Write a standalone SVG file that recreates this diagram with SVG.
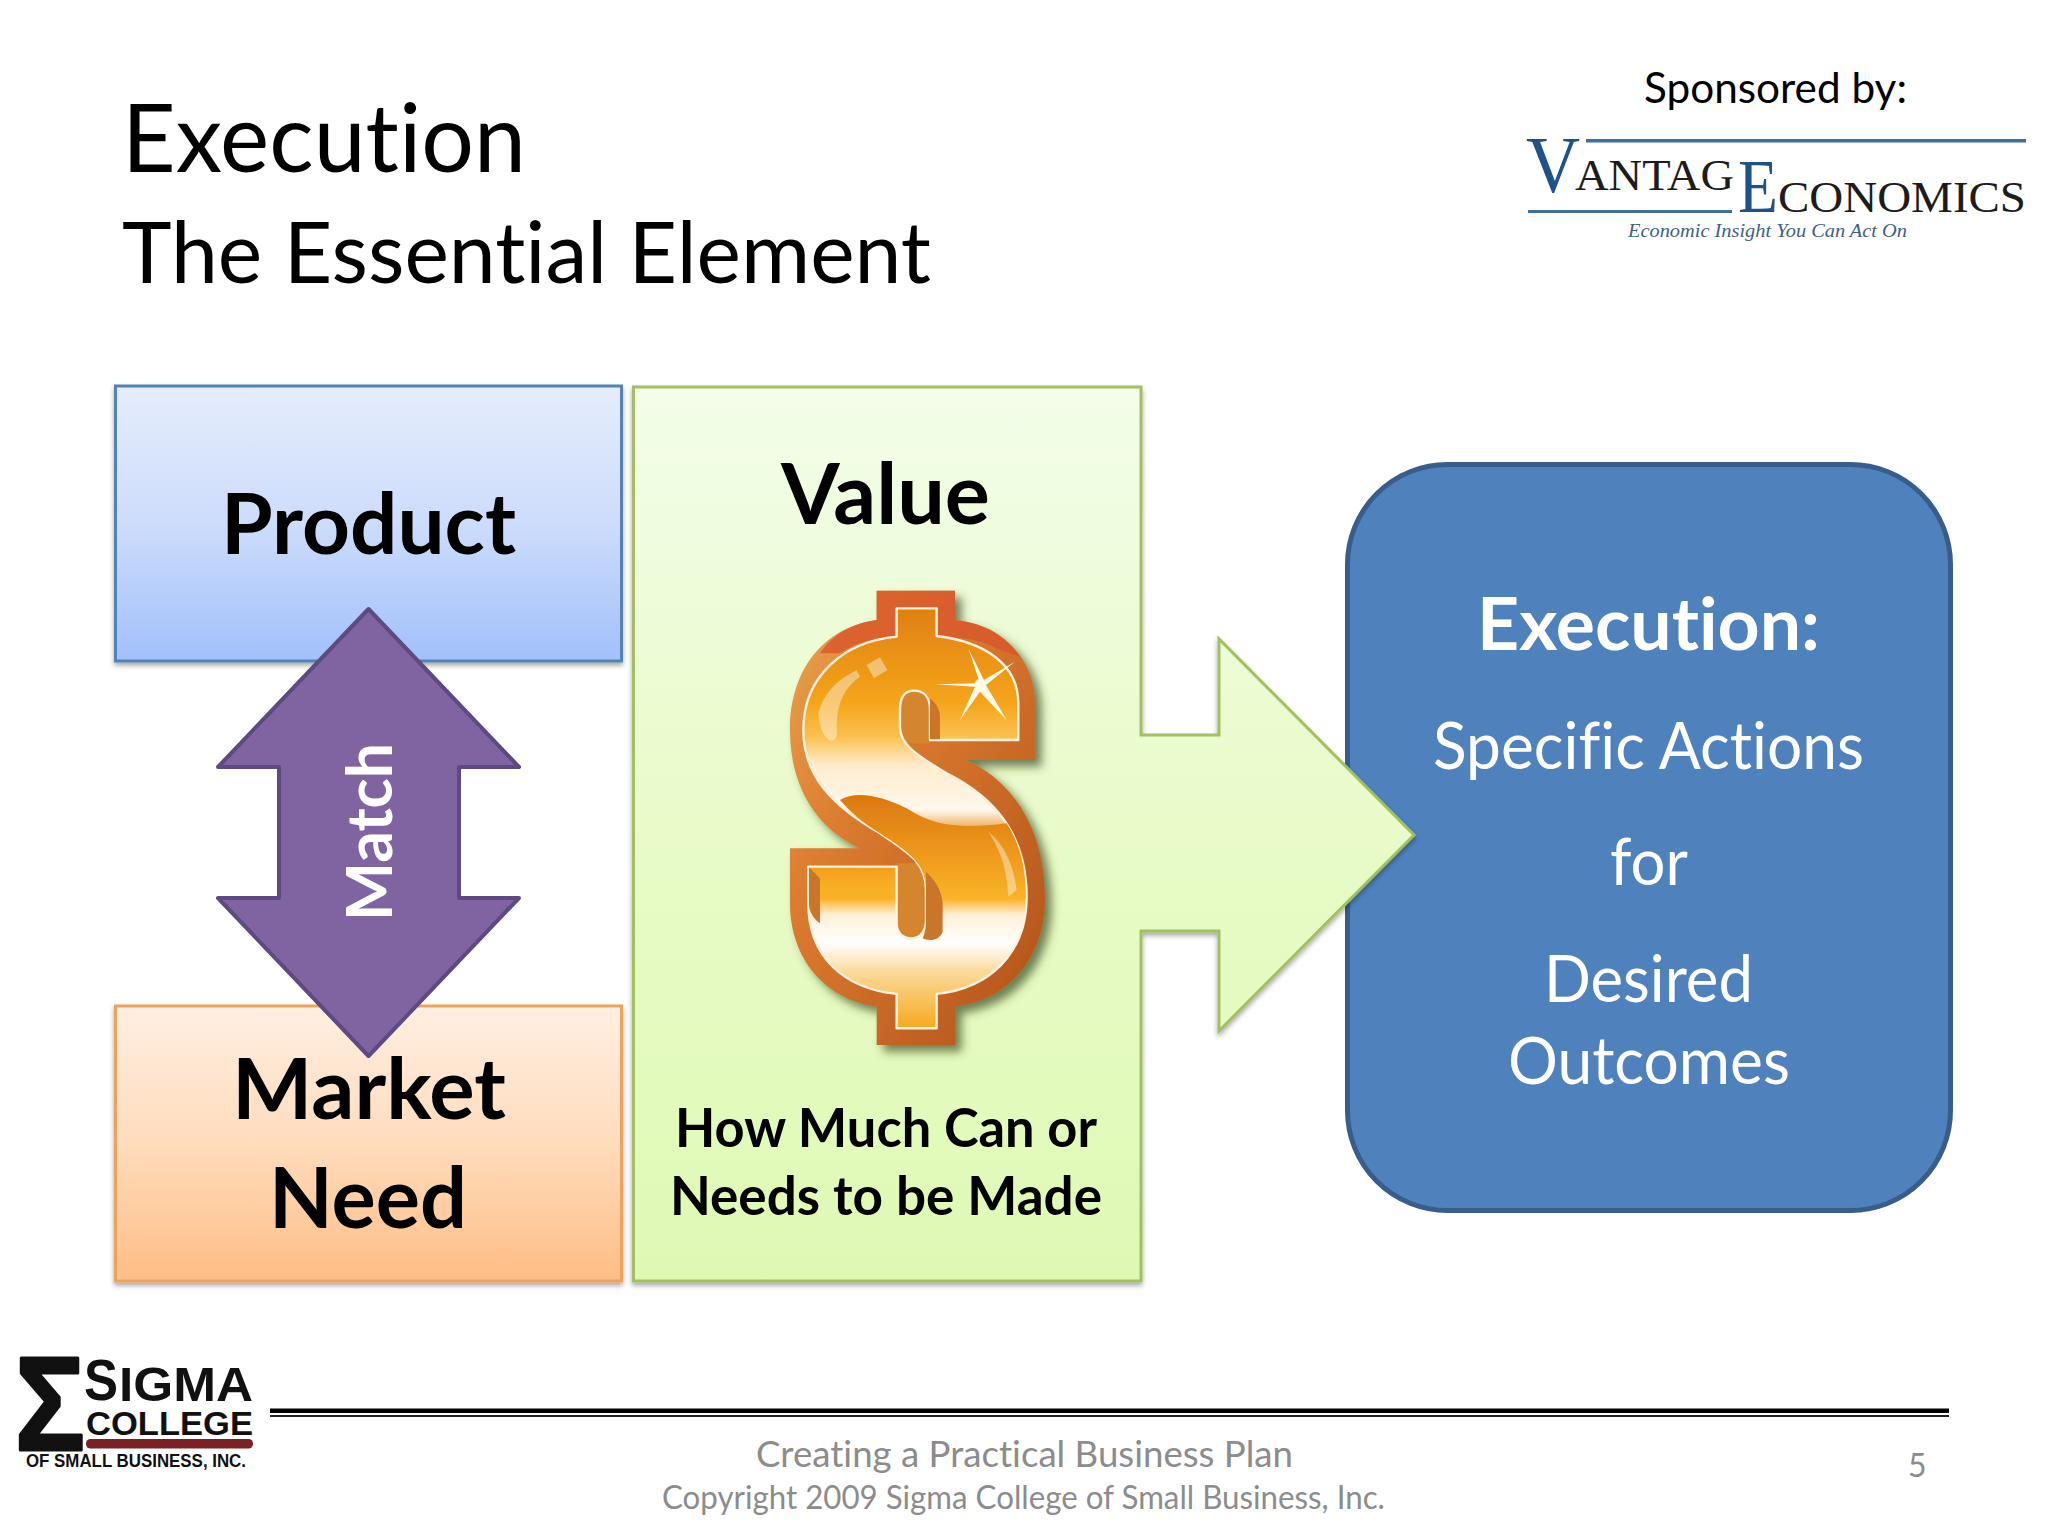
<svg xmlns="http://www.w3.org/2000/svg" width="2048" height="1536" viewBox="0 0 2048 1536">
<style>
text{font-family:"Lato","Open Sans","Liberation Sans",sans-serif;font-variant-ligatures:none}
.b{font-weight:700}
.w{fill:#fff}
.k{fill:#000}
.g{fill:#8c8c8c}
.bx{stroke-width:3;filter:url(#sh)}
.lg{font-family:"Liberation Serif",serif;fill:#1c1c1c}
.lb{font-family:"Liberation Serif",serif;fill:#1f5288}
.sg{font-family:"Liberation Sans",sans-serif;font-weight:700;fill:#111}
</style>
<defs>
<linearGradient id="gP" x1="0" y1="0" x2="0" y2="1"><stop offset="0" stop-color="#e5edfc"/><stop offset=".5" stop-color="#cddcfb"/><stop offset="1" stop-color="#a2c0fb"/></linearGradient>
<linearGradient id="gM" x1="0" y1="0" x2="0" y2="1"><stop offset="0" stop-color="#ffefe2"/><stop offset=".5" stop-color="#ffdcbc"/><stop offset="1" stop-color="#ffbd85"/></linearGradient>
<linearGradient id="gV" gradientUnits="userSpaceOnUse" x1="0" y1="387" x2="0" y2="1281"><stop offset="0" stop-color="#f3fde9"/><stop offset=".5" stop-color="#e8fbc8"/><stop offset="1" stop-color="#dff9b4"/></linearGradient>
<linearGradient id="gD" gradientUnits="userSpaceOnUse" x1="0" y1="0" x2="0" y2="1500">
<stop offset=".077" stop-color="#e08010"/><stop offset=".267" stop-color="#f5a51c"/><stop offset=".333" stop-color="#fbc050"/><stop offset=".39" stop-color="#ffeccc"/><stop offset=".48" stop-color="#fff8ee"/><stop offset=".533" stop-color="#e88a12"/><stop offset=".64" stop-color="#fab025"/><stop offset=".657" stop-color="#fab025"/><stop offset=".69" stop-color="#fff0d8"/><stop offset=".747" stop-color="#fff"/><stop offset=".8" stop-color="#fbdca0"/><stop offset=".917" stop-color="#f6a81c"/></linearGradient>
<linearGradient id="gO" gradientUnits="userSpaceOnUse" x1="0" y1="680" x2="0" y2="985"><stop offset="0" stop-color="#dc7810"/><stop offset="1" stop-color="#fbb327"/></linearGradient>
<linearGradient id="gE" x1="0" y1="0" x2="1" y2="1"><stop offset="0" stop-color="#eaa650"/><stop offset=".35" stop-color="#dc7c30"/><stop offset="1" stop-color="#b0501a"/></linearGradient>
<filter id="sh" x="-5%" y="-5%" width="110%" height="110%"><feDropShadow dx="0" dy="3" stdDeviation="2.500" flood-color="#000" flood-opacity=".35"/></filter>
<filter id="dsh" x="-15%" y="-10%" width="130%" height="125%"><feDropShadow dx="20" dy="20" stdDeviation="14" flood-color="#2e3c0c" flood-opacity=".65"/></filter>
<filter id="bl"><feGaussianBlur stdDeviation="2.200"/></filter>
</defs>
<rect width="2048" height="1536" fill="#fff"/>
<g id="title">
<text x="122" y="172" font-size="95" class="k" textLength="404" lengthAdjust="spacingAndGlyphs">Execution</text>
<text x="122" y="283" font-size="85" class="k" textLength="809" lengthAdjust="spacingAndGlyphs">The Essential Element</text>
</g>
<g id="sponsor">
<text x="1644" y="103" font-size="42" class="k" textLength="263" lengthAdjust="spacingAndGlyphs">Sponsored by:</text>
<g id="vantage-logo">
<rect x="1586" y="139" width="440" height="3.500" fill="#3f6f9f"/>
<rect x="1528" y="210" width="204" height="3" fill="#3f6f9f"/>
<text x="1526" y="192" font-size="80" class="lb" textLength="54" lengthAdjust="spacingAndGlyphs">V</text>
<text x="1575" y="190" font-size="45" class="lg" textLength="159" lengthAdjust="spacingAndGlyphs">ANTAG</text>
<text x="1738" y="212" font-size="76" class="lb" textLength="40" lengthAdjust="spacingAndGlyphs">E</text>
<text x="1778" y="212" font-size="45" class="lg" textLength="248" lengthAdjust="spacingAndGlyphs">CONOMICS</text>
<text x="1628" y="237" font-size="18" font-style="italic" class="lb" style="fill:#3f5f88" textLength="279" lengthAdjust="spacingAndGlyphs">Economic Insight You Can Act On</text>
</g>
</g>
<g id="product">
<rect class="bx" x="115.500" y="386" width="506" height="275" fill="url(#gP)" stroke="#5283b5"/>
<text x="221" y="554" font-size="84" class="b k" textLength="295" lengthAdjust="spacingAndGlyphs">Product</text>
</g>
<g id="market-need">
<rect class="bx" x="115.500" y="1006" width="506" height="275" fill="url(#gM)" stroke="#eda35c"/>
<text x="232" y="1119" font-size="84" class="b k" textLength="274" lengthAdjust="spacingAndGlyphs">Market</text>
<text x="269" y="1228" font-size="84" class="b k" textLength="198" lengthAdjust="spacingAndGlyphs">Need</text>
</g>
<g id="match">
<path d="M368.500 609 L519 767 L459 767 L459 898 L519 898 L368.500 1056 L218 898 L279 898 L279 767 L218 767 Z" fill="#8064a2" stroke="#5c4a80" stroke-width="4" stroke-linejoin="round"/>
<text transform="translate(392 921) rotate(-90)" font-size="64" class="b w" textLength="178" lengthAdjust="spacingAndGlyphs">Match</text>
</g>
<g id="execution">
<rect x="1347.500" y="464.500" width="603" height="746" rx="100" fill="#4f81bd" stroke="#385d8a" stroke-width="5"/>
<text x="1477" y="650" font-size="73" class="b w" textLength="343" lengthAdjust="spacingAndGlyphs">Execution:</text>
<text x="1433" y="769" font-size="65" class="w" textLength="431" lengthAdjust="spacingAndGlyphs">Specific Actions</text>
<text x="1610" y="885" font-size="65" class="w" textLength="78" lengthAdjust="spacingAndGlyphs">for</text>
<text x="1544" y="1002" font-size="65" class="w" textLength="209" lengthAdjust="spacingAndGlyphs">Desired</text>
<text x="1508" y="1084" font-size="65" class="w" textLength="282" lengthAdjust="spacingAndGlyphs">Outcomes</text>
</g>
<g id="value">
<path class="bx" d="M633.500 387 H1141 V735 H1219 V639 L1414 835 L1219 1031 V931 H1141 V1281 H633.500 Z" fill="url(#gV)" stroke="#a2bf63"/>
<text x="781" y="524" font-size="84" class="b k" textLength="209" lengthAdjust="spacingAndGlyphs">Value</text>
<g id="dollar" transform="translate(740 570) scale(.3333)">
<path filter="url(#dsh)" fill="url(#gE)" d="M410 62 H645 V150 C790 165 885 270 885 400 V570 H680 C830 640 915 790 915 985 C915 1170 800 1290 645 1310 V1425 H410 V1310 C260 1290 150 1170 150 1000 V835 H360 C220 770 150 640 150 480 C150 290 260 170 410 150 Z"/>
<g filter="url(#bl)">
<path fill="#d9552a" opacity=".8" d="M410 62 H645 V150 C740 160 800 200 840 260 L780 240 C720 205 650 200 590 200 V115 H470 V200 C400 205 350 215 300 250 L240 250 C280 190 340 160 410 150 Z"/>
<path fill="#d5852e" d="M470 360 H570 V520 H480 Z M470 880 H560 V1110 H470 Z"/>
<path fill="url(#gD)" stroke="#fff2e0" stroke-width="7" stroke-linejoin="round" d="M470 115 H590 V198 C730 215 835 280 835 400 V510 H570 V420 C570 380 550 362 522 362 C495 362 480 380 480 420 V470 C480 520 520 550 620 610 C760 680 860 790 860 980 C860 1150 750 1255 590 1272 V1375 H470 V1272 C310 1255 205 1160 205 1000 V890 H470 V1060 C470 1090 490 1105 515 1105 C540 1105 558 1085 558 1050 V960 C558 880 510 850 420 790 C280 710 190 620 190 480 C190 320 310 215 470 200 Z"/>
<path fill="url(#gO)" d="M300 690 C350 660 430 680 500 715 C590 775 680 775 800 760 C845 830 857 900 858 985 H565 L558 960 C558 880 510 850 420 790 C370 760 330 725 300 690 Z"/>
<path fill="#c9762a" d="M570 385 C590 400 600 420 600 440 V508 H570 V420 Z M558 905 C585 930 605 960 608 1000 V1085 C600 1110 570 1115 548 1105 C558 1085 558 1060 558 1050 V960 Z M207 892 L240 925 V1060 C225 1050 207 1030 207 1000 Z"/>
<path fill="#fff" opacity=".4" d="M380 285 L420 262 L442 300 L402 325 Z M235 430 C250 370 290 330 350 300 L360 320 C315 350 290 400 290 470 C300 540 240 520 235 430 Z M745 785 C790 820 820 880 830 960 L805 980 C800 890 780 840 745 785 Z"/>
</g>
<g fill="#fffbe8">
<path d="M720 340 L685 235 L732 330 L825 275 L738 345 L800 450 L720 365 L660 450 L705 350 L585 343 Z"/>
<circle cx="718" cy="342" r="14"/>
</g>
</g>
<text x="675" y="1147" font-size="54" class="b k" textLength="422" lengthAdjust="spacingAndGlyphs">How Much Can or</text>
<text x="670" y="1215" font-size="54" class="b k" textLength="432" lengthAdjust="spacingAndGlyphs">Needs to be Made</text>
</g>
<g id="footer">
<g id="sigma-logo">
<text x="15" y="1450" font-size="134" class="sg" stroke="#111" stroke-width="3" stroke-linejoin="round" textLength="70" lengthAdjust="spacingAndGlyphs">Σ</text>
<text x="84" y="1400" font-size="58" class="sg" textLength="34" lengthAdjust="spacingAndGlyphs">S</text>
<text x="119" y="1401" font-size="48" class="sg" textLength="134" lengthAdjust="spacingAndGlyphs">IGMA</text>
<text x="86" y="1435" font-size="33" class="sg" textLength="167" lengthAdjust="spacingAndGlyphs">COLLEGE</text>
<rect x="86" y="1439" width="167" height="9.500" rx="4.500" fill="#7b2025"/>
<text x="26" y="1467" font-size="18" class="sg" textLength="220" lengthAdjust="spacingAndGlyphs">OF SMALL BUSINESS, INC.</text>
</g>
<rect x="270" y="1408.500" width="1679" height="4.500" fill="#000"/>
<rect x="270" y="1415" width="1679" height="2" fill="#222"/>
<text x="756" y="1467" font-size="37" class="g" textLength="537" lengthAdjust="spacingAndGlyphs">Creating a Practical Business Plan</text>
<text x="662" y="1509" font-size="32" class="g" textLength="723" lengthAdjust="spacingAndGlyphs">Copyright 2009 Sigma College of Small Business, Inc.</text>
<text x="1908" y="1477" font-size="32" class="g">5</text>
</g>
</svg>
